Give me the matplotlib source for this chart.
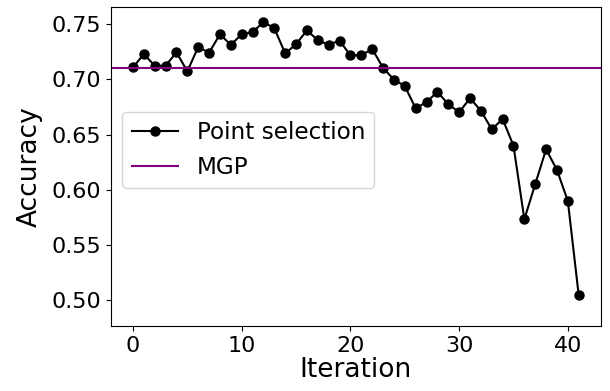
import matplotlib
matplotlib.use("Agg")
import matplotlib.pyplot as plt

iterations = list(range(42))
accuracy = [0.711, 0.723, 0.7125, 0.7125, 0.7246, 0.7074, 0.7294, 0.7243, 0.7409, 0.7315,
            0.7409, 0.7428, 0.7521, 0.7464, 0.7237, 0.7319, 0.7446, 0.7355, 0.7315, 0.7352,
            0.7219, 0.7219, 0.7276, 0.7107, 0.6998, 0.6941, 0.6739, 0.6795, 0.6888, 0.6777,
            0.6703, 0.6830, 0.6718, 0.6549, 0.6642, 0.6400, 0.5734, 0.6052, 0.6368, 0.6180,
            0.5899, 0.5045]
mgp_value = 0.7107

plt.rcParams['font.family'] = ['DejaVu Sans']
fig = plt.figure(figsize=(6.1, 3.91), dpi=100)
ax = fig.add_axes([110.7/610, 1-326/391, (601-110.7)/610, (326-7.3)/391])
ax.plot(iterations, accuracy, color='black', marker='o', markersize=6.5, linewidth=1.5,
        label='Point selection')
ax.axhline(mgp_value, color='purple', linewidth=1.5, label='MGP')
ax.set_xlim(-2.05, 43.05)
ax.set_ylim(0.4767, 0.7654)
ax.set_yticks([0.50, 0.55, 0.60, 0.65, 0.70, 0.75])
ax.set_xticks([0, 10, 20, 30, 40])
ax.tick_params(labelsize=16)
ax.set_xlabel('Iteration', fontsize=19, labelpad=1)
ax.set_ylabel('Accuracy', fontsize=19, labelpad=6)
ax.legend(fontsize=16.7, loc='upper left', bbox_to_anchor=(0.0237, 0.672), borderaxespad=0)
fig.savefig('out.png', dpi=100)
